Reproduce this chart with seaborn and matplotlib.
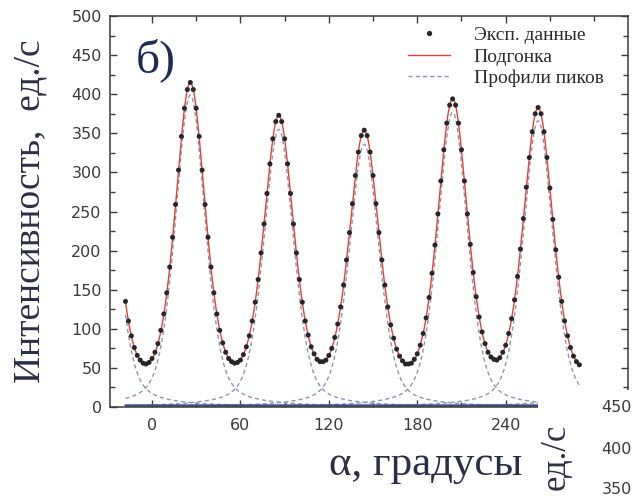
import numpy as np
import pandas as pd
import matplotlib
matplotlib.use("Agg")
import matplotlib.pyplot as plt
from matplotlib.lines import Line2D
from matplotlib.patches import Rectangle
from matplotlib.ticker import MultipleLocator
import seaborn as sns

# ---- measured scan: rotation angle grid (degrees) and intensity (counts/s)
SCAN_START, SCAN_STOP, SCAN_STEP = -18, 290, 2
intensity = [
    135, 110, 91, 76, 66, 60, 56, 55, 57, 62, 70, 81, 98, 119, 146, 179, 217, 259,
    303, 346, 382, 406, 415,
    406, 382, 346, 303, 259, 217, 179, 146, 119, 98, 82, 70, 62, 58, 56, 57, 60, 67,
    77, 91, 110, 134, 163, 197, 234, 273, 311, 343, 365, 373,
    365, 343, 311, 273, 234, 197, 163, 134, 110, 92, 77, 68, 61, 58, 58, 60, 66, 75,
    89, 106, 128, 156, 188, 223, 260, 296, 326, 347, 354,
    347, 326, 296, 260, 223, 188, 156, 128, 105, 88, 74, 65, 59, 55, 55, 56, 61, 68,
    79, 94, 114, 140, 171, 207, 247, 289, 329, 363, 386, 394,
    386, 363, 329, 289, 247, 208, 172, 141, 115, 96, 81, 70, 64, 61, 60, 63, 70, 79,
    94, 113, 137, 167, 202, 241, 281, 319, 352, 375, 383,
    375, 352, 319, 280, 240, 201, 166, 135, 110, 91, 76, 65, 58, 54,
]

# ---- fitted pseudo-Voigt peaks
peak_centers = [-34, 26, 86, 144, 204, 262, 322]
peak_heights = [370, 399, 355, 336, 377, 366, 370]
peak_hwhm = [12, 12, 12, 12, 12, 12, 12]
peak_eta = [0.4, 0.4, 0.4, 0.4, 0.4, 0.4, 0.4]
background = 2.0

x_ticks = [0, 60, 120, 180, 240]
y_ticks = [0, 50, 100, 150, 200, 250, 300, 350, 400, 450, 500]
legend_labels = ["Эксп. данные", "Подгонка", "Профили пиков"]
neighbour_ticks = ["450", "400", "350"]


def pseudo_voigt(x, center, height, hwhm, eta):
    r = ((x - center) / hwhm) ** 2
    return height * (eta / (1.0 + r) + (1.0 - eta) * np.exp(-np.log(2.0) * r))


angles = np.arange(SCAN_START, SCAN_STOP + 1, SCAN_STEP)
scan = pd.DataFrame({"angle": angles, "intensity": intensity})

grid = np.linspace(SCAN_START, SCAN_STOP, 1200)
profiles = [pseudo_voigt(grid, c, a, w, e)
            for c, a, w, e in zip(peak_centers, peak_heights, peak_hwhm, peak_eta)]
fit = background + np.sum(profiles, axis=0)

sns.set_theme(style="ticks")
plt.rcParams["font.family"] = ["DejaVu Sans"]

W, H = 633, 497
fig = plt.figure(figsize=(W / 100, H / 100), dpi=100)
ax = fig.add_axes([110 / W, 1 - 407 / H, (628 - 110) / W, (407 - 16) / H])

prof_color = "#8d95b3"
for prof in profiles:
    sns.lineplot(x=grid, y=prof, ax=ax, color=prof_color, lw=1.0,
                 linestyle=(0, (3, 2.2)), zorder=1)
sns.lineplot(x=grid, y=np.full_like(grid, background), ax=ax, color="#3b4a8c",
             lw=1.6, zorder=2)
sns.lineplot(x=grid, y=fit, ax=ax, color="#e0413a", lw=1.0, zorder=3)
sns.scatterplot(data=scan, x="angle", y="intensity", ax=ax, s=13, color="#262626",
                edgecolor="none", linewidth=0, zorder=4)

ax.set_xlim(-28.5, 323)
ax.set_ylim(0, 500)
ax.set_xticks(x_ticks)
ax.set_yticks(y_ticks)
ax.xaxis.set_minor_locator(MultipleLocator(30))
ax.yaxis.set_minor_locator(MultipleLocator(25))
ax.tick_params(which="both", direction="in", top=True, right=True,
               colors="#3a3a3a", width=1.0)
ax.tick_params(which="major", length=5)
ax.tick_params(which="minor", length=3.5)
ax.tick_params(axis="x", which="major", pad=8, labelsize=11.5, labelcolor="#3a3a3a")
ax.tick_params(axis="y", which="major", pad=6, labelsize=11.5, labelcolor="#3a3a3a")
for sp in ax.spines.values():
    sp.set_color("#3a3a3a")
    sp.set_linewidth(1.1)
ax.set_xlabel("")
ax.set_ylabel("")

serif = ["Liberation Serif", "DejaVu Serif"]
fig.text(30 / W, 1 - 211 / H, "Интенсивность,  ед./с", rotation=90, ha="center",
         va="center", fontsize=27, family=serif, color="#2b2f45")
fig.text(426 / W, 1 - 465 / H, "α, градусы", ha="center", va="center",
         fontsize=31, family=serif, color="#2b2f45")
ax.text(156 / W, 1 - 60 / H, "б)", transform=fig.transFigure, ha="center",
        va="center", fontsize=34, family=serif, color="#1f2a55")

handles = [
    Line2D([], [], ls="none", marker="o", ms=2.8, color="#262626"),
    Line2D([], [], color="#e0413a", lw=1.0),
    Line2D([], [], color=prof_color, lw=1.0, ls=(0, (3, 2.2))),
]
leg = ax.legend(handles, legend_labels, loc="upper left",
                bbox_to_anchor=((394 - 110) / 518, 1.008), frameon=False,
                prop={"family": serif, "size": 14}, handlelength=2.2,
                handletextpad=1.2, labelspacing=0.2, borderpad=0.2)
for t in leg.get_texts():
    t.set_color("#2b2b2b")

# neighbouring panel reaching into the lower-right corner
fig.add_artist(Rectangle((538 / W, 0), 1, (497 - 390) / H, transform=fig.transFigure,
                         facecolor="white", edgecolor="none", zorder=10))
fig.text(556 / W, 1 - 424 / H, "ед./с", rotation=90, ha="center",
         va="top", fontsize=25, family=serif, color="#2b2f45", zorder=11)
for lbl, yp in zip(neighbour_ticks, [408, 450, 490]):
    fig.text(632 / W, 1 - yp / H, lbl, ha="right", va="center", fontsize=11.5,
             color="#3a3a3a", zorder=11)

fig.savefig("out.png", dpi=100, facecolor="white")
